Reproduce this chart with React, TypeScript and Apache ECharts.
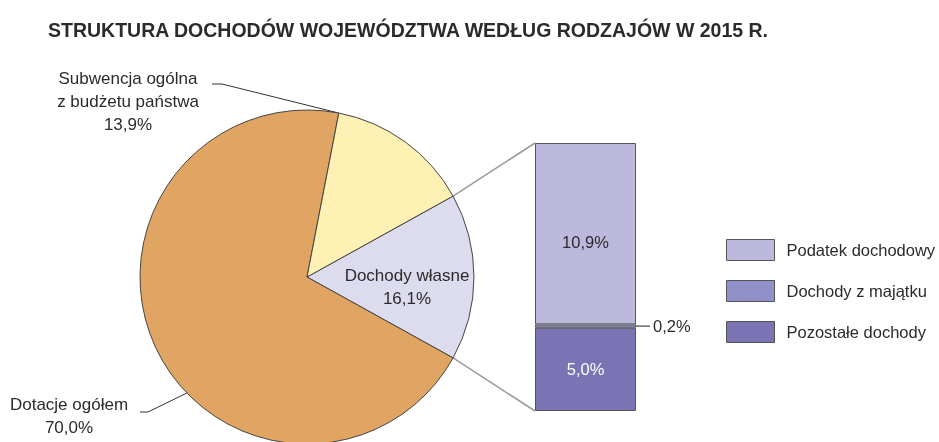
import React, { useEffect, useRef } from "react";
import * as echarts from "echarts";

const titleText = "STRUKTURA DOCHODÓW WOJEWÓDZTWA WEDŁUG RODZAJÓW W 2015 R.";
const pieNames = ["Dochody własne", "Dotacje ogółem", "Subwencja ogólna\nz budżetu państwa"];
const pieValues = [16.1, 70.0, 13.9];
const pieColors = ["#DCDCEE", "#E0A463", "#FFF0B3"];
const barNames = ["Pozostałe dochody", "Dochody z majątku", "Podatek dochodowy"];
const barValues = [5.0, 0.2, 10.9];
const barColors = ["#7A74B4", "#9190C8", "#BCB9DC"];
const legendOrder = ["Podatek dochodowy", "Dochody z majątku", "Pozostałe dochody"];

const FONT = "'Liberation Sans', Arial, sans-serif";
const TXT = "#2b2b2b";

const fmt = (v: number) => v.toFixed(1).replace(".", ",") + "%";

export default function App() {
  const ref = useRef<HTMLDivElement>(null);
  useEffect(() => {
    if (!ref.current) return;
    const chart = echarts.init(ref.current, null, { renderer: "svg" });
    const cx = 307, cy = 277, R = 167;
    const start = (pieValues[0] * 3.6) / 2;
    const pt = (deg: number) => {
      const a = (deg * Math.PI) / 180;
      return [cx + R * Math.cos(a), cy - R * Math.sin(a)];
    };
    const subStartAngle = start - (pieValues[0] + pieValues[1]) * 3.6 + 360;

    const option: any = {
      animation: false,
      title: {
        text: titleText,
        left: 43,
        top: 15,
        textStyle: { fontFamily: FONT, fontSize: 19.5, fontWeight: "bold", color: TXT },
      },
      legend: {
        orient: "vertical",
        left: 721,
        top: 234,
        itemWidth: 48,
        itemHeight: 21,
        itemGap: 19,
        icon: "rect",
        data: legendOrder,
        itemStyle: { borderColor: "#555", borderWidth: 1 },
        textStyle: { fontFamily: FONT, fontSize: 16.5, color: TXT, padding: [0, 0, 0, 7] },
      },
      grid: { left: 535, top: 143, width: 101, height: 268 },
      xAxis: { type: "category", data: ["x"], show: false },
      yAxis: { type: "value", min: 0, max: pieValues[0], show: false },
      series: [
        {
          type: "pie",
          center: [cx, cy],
          radius: R,
          startAngle: start,
          clockwise: true,
          avoidLabelOverlap: false,
          itemStyle: { borderColor: "#444", borderWidth: 1 },
          label: {
            fontFamily: FONT,
            fontSize: 17,
            color: TXT,
            lineHeight: 23,
            formatter: (p: any) => p.name + "\n" + fmt(p.value),
          },
          labelLine: { show: true, lineStyle: { color: "#333", width: 1 } },
          labelLayout: (p: any) => {
            if (p.dataIndex === 0) {
              return { x: 407, y: 287, align: "center", verticalAlign: "middle" };
            }
            if (p.dataIndex === 2) {
              const a = pt(subStartAngle);
              return {
                x: 128,
                y: 101,
                align: "center",
                verticalAlign: "middle",
                labelLinePoints: [a, [222, 84], [212, 84]],
              };
            }
            const a = pt(224);
            return {
              x: 69,
              y: 416,
              align: "center",
              verticalAlign: "middle",
              labelLinePoints: [a, [148, 412], [140, 412]],
            };
          },
          data: pieNames.map((n, i) => ({
            name: n,
            value: pieValues[i],
            itemStyle: { color: pieColors[i] },
            label: i === 0 ? { position: "inside" } : { position: "outside" },
            labelLine: { show: i !== 0 },
          })),
        },
        ...barNames.map((n, i) => ({
          type: "bar",
          name: n,
          stack: "s",
          barWidth: "100%",
          data: [barValues[i]],
          itemStyle: { color: barColors[i], borderColor: "#555", borderWidth: 1 },
          label: {
            show: true,
            position: i === 1 ? "right" : "inside",
            distance: 17,
            offset: i === 2 ? [0, 8] : [0, 0],
            fontFamily: FONT,
            fontSize: 16.5,
            color: i === 0 ? "#ffffff" : TXT,
            formatter: (p: any) => fmt(p.value),
          },
        })),
      ],
    };
    chart.setOption(option);

    const top = chart.convertToPixel({ xAxisIndex: 0, yAxisIndex: 0 }, [0, pieValues[0]]) as number[];
    const bot = chart.convertToPixel({ xAxisIndex: 0, yAxisIndex: 0 }, [0, 0]) as number[];
    const mid = chart.convertToPixel({ xAxisIndex: 0, yAxisIndex: 0 }, [0, barValues[0] + barValues[1] / 2]) as number[];
    const half = 101 / 2;
    const pTop = pt(start);
    const pBot = pt(-start);
    const ls = { stroke: "#9a9a9a", lineWidth: 1.5 };
    chart.setOption({
      graphic: [
        { type: "line", shape: { x1: pTop[0], y1: pTop[1], x2: top[0] - half, y2: top[1] }, style: ls, z: 0 },
        { type: "line", shape: { x1: pBot[0], y1: pBot[1], x2: bot[0] - half, y2: bot[1] }, style: ls, z: 0 },
        { type: "line", shape: { x1: mid[0] + half, y1: mid[1], x2: mid[0] + half + 14, y2: mid[1] }, style: { stroke: "#444", lineWidth: 1.2 } },
      ],
    });
    return () => chart.dispose();
  }, []);
  return <div ref={ref} style={{ position: "fixed", left: 0, top: 0, width: 939, height: 442 }} />;
}
